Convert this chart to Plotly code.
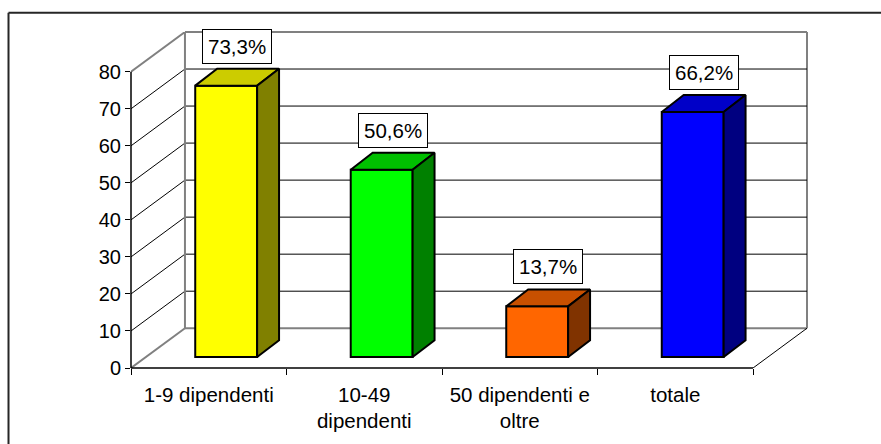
import plotly.graph_objects as go

# ---- data ----
categories = ["1-9 dipendenti", "10-49<br>dipendenti", "50 dipendenti e<br>oltre", "totale"]
values = [73.3, 50.6, 13.7, 66.2]
y_ticks = [0, 10, 20, 30, 40, 50, 60, 70, 80]
front_colors = ["#FFFF00", "#00FF00", "#FF6600", "#0000FF"]
top_colors = ["#CCCC00", "#00C000", "#C85000", "#0000C8"]
side_colors = ["#808000", "#008000", "#803300", "#000080"]

# ---- 3D geometry (styles) ----
Y_MAX = y_ticks[-1]
DX = 0.347      # wall depth in category units
DY = 10.74      # wall depth in value units
BAR_SHIFT = 0.112
BAR_BASE = 2.95
BAR_W = 0.398
BAR_DX = 0.141
BAR_DY = 4.56
FONT = "Liberation Sans, Arial, sans-serif"

n = len(categories)
fig = go.Figure()

shapes = []
line_blk = dict(color="black", width=1)
line_gray = dict(color="#808080", width=2)

# left wall and back wall gridlines
for v in y_ticks[1:-1]:
    shapes.append(dict(type="line", xref="x", yref="y", x0=0, y0=v, x1=DX, y1=v + DY,
                       line=line_blk, layer="below"))
    shapes.append(dict(type="line", xref="x", yref="y", x0=DX, y0=v + DY, x1=n + DX, y1=v + DY,
                       line=line_blk, layer="below"))
# left wall edges
shapes.append(dict(type="line", xref="x", yref="y", x0=0, y0=0, x1=DX, y1=DY, line=line_gray, layer="below"))
shapes.append(dict(type="line", xref="x", yref="y", x0=0, y0=Y_MAX, x1=DX, y1=Y_MAX + DY, line=line_gray, layer="below"))
# back wall border
shapes.append(dict(type="line", xref="x", yref="y", x0=DX, y0=DY, x1=DX, y1=Y_MAX + DY, line=line_gray, layer="below"))
shapes.append(dict(type="line", xref="x", yref="y", x0=DX, y0=DY, x1=n + DX, y1=DY, line=line_gray, layer="below"))
shapes.append(dict(type="line", xref="x", yref="paper", x0=DX, y0=1, x1=n + DX, y1=1, line=line_gray, layer="below"))
shapes.append(dict(type="line", xref="paper", yref="y", x0=1, y0=DY, x1=1, y1=Y_MAX + DY, line=line_gray, layer="below"))
# floor right edge
shapes.append(dict(type="line", xref="x", yref="y", x0=n, y0=0, x1=n + DX, y1=DY, line=line_blk, layer="below"))
# front axes
shapes.append(dict(type="line", xref="x", yref="paper", x0=0, y0=0, x1=n, y1=0,
                   line=dict(color="black", width=1.5), layer="above"))
shapes.append(dict(type="line", xref="paper", yref="y", x0=0, y0=0, x1=0, y1=Y_MAX,
                   line=dict(color="black", width=1.5), layer="above"))
# outer chart border (only top and left edges fall inside the picture)
shapes.append(dict(type="line", xref="paper", yref="paper", x0=-0.1812, y0=-0.3, x1=-0.1812, y1=1.0571,
                   line=dict(color="#262626", width=2), layer="above"))
shapes.append(dict(type="line", xref="paper", yref="paper", x0=-0.1812, y0=1.0571, x1=1.2, y1=1.0571,
                   line=dict(color="#262626", width=2), layer="above"))

# front faces of bars
xc = [i + 0.5 + BAR_SHIFT for i in range(n)]
fig.add_trace(go.Bar(x=xc, y=values, base=BAR_BASE, width=BAR_W,
                     marker=dict(color=front_colors, line=dict(color="black", width=2)),
                     hoverinfo="skip", showlegend=False))

# top and side faces
for i, v in enumerate(values):
    x0 = xc[i] - BAR_W / 2
    x1 = xc[i] + BAR_W / 2
    t = BAR_BASE + v
    fig.add_trace(go.Scatter(x=[x0, x1, x1 + BAR_DX, x0 + BAR_DX, x0],
                             y=[t, t, t + BAR_DY, t + BAR_DY, t],
                             mode="lines", fill="toself", fillcolor=top_colors[i],
                             line=dict(color="black", width=2), hoverinfo="skip", showlegend=False))
    fig.add_trace(go.Scatter(x=[x1, x1 + BAR_DX, x1 + BAR_DX, x1, x1],
                             y=[BAR_BASE, BAR_BASE + BAR_DY, t + BAR_DY, t, BAR_BASE],
                             mode="lines", fill="toself", fillcolor=side_colors[i],
                             line=dict(color="black", width=2), hoverinfo="skip", showlegend=False))

annotations = []
for i, v in enumerate(values):
    annotations.append(dict(
        x=xc[i] + BAR_DX / 2, y=BAR_BASE + v + BAR_DY, xref="x", yref="y",
        text=f"{v:.1f}".replace(".", ",") + "%", showarrow=False,
        yanchor="bottom", yshift=5,
        bgcolor="white", bordercolor="black", borderwidth=1, borderpad=5,
        font=dict(family=FONT, size=20.5, color="black")))

fig.update_layout(
    width=881, height=444, autosize=False,
    margin=dict(l=131, r=74, t=32, b=74),
    paper_bgcolor="white", plot_bgcolor="white",
    shapes=shapes, annotations=annotations,
    xaxis=dict(range=[0, n + DX], tickmode="array",
               tickvals=[i + 0.5 for i in range(n)], ticktext=categories,
               ticks="", showgrid=False, zeroline=False, showline=False,
               ticklabelstandoff=12,
               tickfont=dict(family=FONT, size=20.5, color="black"),
               minor=dict(tickmode="array", tickvals=list(range(n + 1)), ticks="outside",
                          ticklen=6, tickcolor="black", tickwidth=1, showgrid=False),
               fixedrange=True),
    yaxis=dict(range=[0, Y_MAX + DY], tickmode="array", tickvals=y_ticks,
               ticks="outside", ticklen=5, tickcolor="black", tickwidth=1,
               showgrid=False, zeroline=False, showline=False,
               tickfont=dict(family=FONT, size=20, color="black"),
               fixedrange=True),
    font=dict(family=FONT, color="black"),
)

fig.write_html("out.html")
